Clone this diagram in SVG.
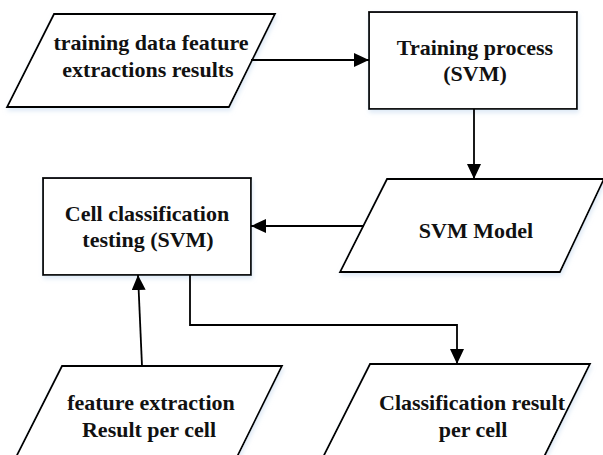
<svg xmlns="http://www.w3.org/2000/svg" width="603" height="455" viewBox="0 0 603 455">
  <style>
    .shape { fill: #ffffff; stroke: #000000; stroke-width: 1.8; filter: url(#soft); }
    .label { font-family: 'Liberation Serif', 'Times New Roman', serif; font-weight: bold; font-size: 22px; fill: #111111; text-anchor: middle; }
    .wire { fill: none; stroke: #000000; stroke-width: 1.8; }
  </style>
  <defs>
    <!-- faint bluish drop shadow under every shape -->
    <filter id="soft" x="-10%" y="-10%" width="130%" height="140%">
      <feGaussianBlur in="SourceAlpha" stdDeviation="2" result="b"/>
      <feOffset dx="1" dy="3" result="o"/>
      <feFlood flood-color="#c9dcf0" flood-opacity="0.6"/>
      <feComposite in2="o" operator="in" result="s"/>
      <feMerge><feMergeNode in="s"/><feMergeNode in="SourceGraphic"/></feMerge>
    </filter>
    <marker id="head" viewBox="0 0 15 14" refX="15" refY="7" markerWidth="15" markerHeight="14" markerUnits="userSpaceOnUse" orient="auto">
      <path d="M0,0 L15,7 L0,14 Z" fill="#000000"/>
    </marker>
  </defs>

  <g id="training-data">
    <polygon class="shape" points="54,14 275,14 229,107 7,107"/>
    <text class="label" x="151" y="50">training data feature</text>
    <text class="label" x="148" y="77">extractions results</text>
  </g>

  <g id="training-process">
    <rect class="shape" x="369" y="12" width="208" height="97"/>
    <text class="label" x="475" y="55">Training process</text>
    <text class="label" x="475" y="81">(SVM)</text>
  </g>

  <g id="svm-model">
    <polygon class="shape" points="387,179 604,179 560,272 340,272"/>
    <text class="label" x="476" y="238">SVM Model</text>
  </g>

  <g id="cell-testing">
    <rect class="shape" x="43" y="178" width="208" height="97"/>
    <text class="label" x="147" y="221">Cell classification</text>
    <text class="label" x="148" y="247">testing (SVM)</text>
  </g>

  <g id="feature-extraction">
    <polygon class="shape" points="62,366 282,366 236,459 15,459"/>
    <text class="label" x="151" y="410">feature extraction</text>
    <text class="label" x="149" y="437">Result per cell</text>
  </g>

  <g id="classification-result">
    <polygon class="shape" points="370,364 590,364 544,457 323,457"/>
    <text class="label" x="472" y="410">Classification result</text>
    <text class="label" x="473" y="437">per cell</text>
  </g>

  <g id="connectors">
    <line class="wire" x1="251" y1="60" x2="369" y2="60" marker-end="url(#head)"/>
    <line class="wire" x1="474" y1="109" x2="474" y2="179" marker-end="url(#head)"/>
    <line class="wire" x1="364" y1="226" x2="251" y2="226" marker-end="url(#head)"/>
    <line class="wire" x1="142" y1="366" x2="138" y2="275" marker-end="url(#head)"/>
    <polyline class="wire" points="190,275 190,325 457,325 457,364" marker-end="url(#head)"/>
  </g>
</svg>
